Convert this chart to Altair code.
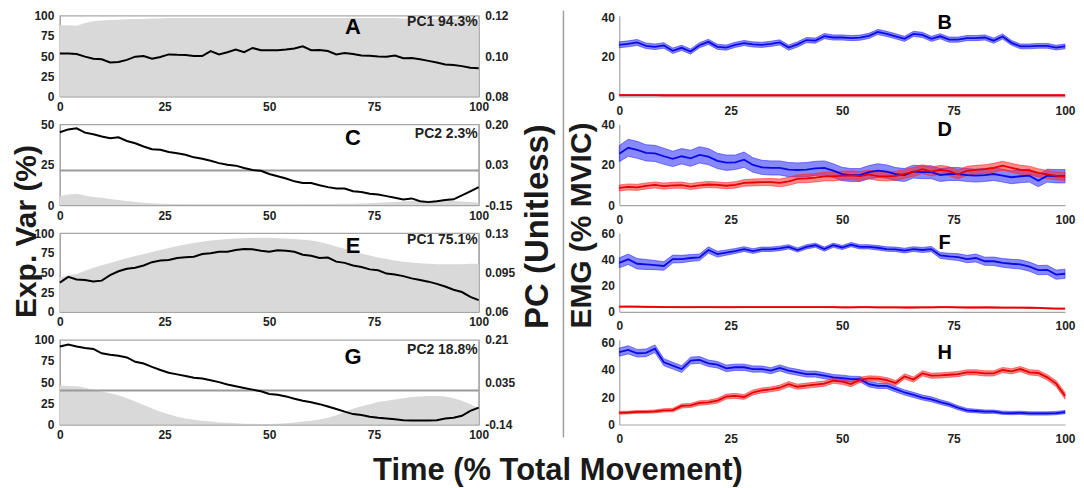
import altair as alt
import pandas as pd

X = list(range(0, 101, 2))
XTICKS = [0, 25, 50, 75, 100]

# ---------------- left column: explained variance (area) + PC loading (line)
A_VAR = [88, 88, 87.5, 91, 93, 94, 94.5, 95, 95.5, 96,
         96, 96.5, 96.5, 97, 97, 97, 97, 97, 97, 97,
         97, 97, 97, 97, 97, 97, 97, 97, 97, 97,
         97, 97, 97, 97, 97, 97, 97, 97, 97, 97,
         97, 96.5, 96.5, 96, 96, 96, 96, 96, 95.5, 95.5,
         95.5]
A_PC = [.1013, .1013, .1010, .0997, .0987, .0984, .0968, .0971, .0981, .0997,
        .1000, .0987, .0995, .1008, .1006, .1005, .1000, .1000, .1024, .1008,
        .1019, .1032, .1019, .1040, .1029, .1029, .1029, .1032, .1037, .1048,
        .1029, .1030, .1025, .1008, .1015, .1010, .1003, .1001, .0998, .0997,
        .1003, .0989, .0990, .0984, .0976, .0968, .0958, .0956, .0950, .0942,
        .0940]
C_VAR = [5.5, 6.5, 7, 6, 5, 4.5, 3.8, 3.1, 2.6, 2,
         1.4, 1.1, 0.9, 0.8, 0.7, 0.7, 0.6, 0.6, 0.6, 0.6,
         0.6, 0.6, 0.6, 0.6, 0.6, 0.6, 0.6, 0.6, 0.6, 0.7,
         0.7, 0.7, 0.7, 0.8, 0.8, 0.9, 1.0, 1.2, 1.4, 1.7,
         2.0, 2.2, 2.5, 2.7, 2.9, 3.0, 2.9, 2.6, 2.3, 1.9,
         1.4]
C_PC = [.166, .178, .183, .164, .157, .147, .140, .144, .128, .118,
        .104, .092, .090, .080, .075, .068, .057, .051, .042, .032,
        .025, .021, .011, .002, -.001, -.015, -.025, -.035, -.047, -.054,
        -.054, -.064, -.072, -.078, -.078, -.090, -.093, -.101, -.104, -.111,
        -.118, -.126, -.121, -.133, -.137, -.133, -.128, -.125, -.108, -.090,
        -.072]
E_VAR = [44, 46, 48, 52, 56, 59, 62, 65, 68, 71,
         73.5, 76, 78.5, 81, 83.5, 85.5, 87.5, 89, 90.5, 91.5,
         92.5, 93, 93.5, 94, 94, 94, 93.5, 93, 92.5, 91.5,
         90.5, 88.5, 86, 83, 80, 77, 74, 71.5, 69, 67,
         65, 63.5, 62.5, 61.5, 61, 60.5, 60.5, 60.5, 60.5, 61,
         61]
E_PC = [.0859, .0911, .0888, .0882, .0870, .0877, .0926, .0960, .0983, .0992,
        .1012, .1041, .1055, .1061, .1078, .1084, .1090, .1113, .1121, .1133,
        .1133, .1150, .1158, .1156, .1142, .1133, .1147, .1142, .1133, .1107,
        .1098, .1078, .1082, .1046, .1035, .1012, .0998, .0977, .0969, .0940,
        .0931, .0917, .0897, .0882, .0868, .0848, .0825, .0796, .0776, .0733,
        .0704]
G_VAR = [46, 45.5, 45, 43.5, 41, 39, 37, 34.5, 31, 27,
         23, 19, 15, 12, 9, 7, 5.5, 4.5, 3.5, 2.5,
         2, 1.5, 1, 0.8, 0.5, 0.5, 1, 1.5, 2.5, 3.5,
         4.5, 6, 8, 11, 15, 18.5, 21.5, 24, 26.5, 28,
         29.5, 31, 32.5, 33, 33.5, 33.5, 33, 31, 28, 24,
         19.5]
G_PC = [.182, .190, .182, .176, .172, .154, .148, .144, .137, .119,
        .112, .098, .085, .074, .067, .060, .053, .050, .043, .035,
        .025, .018, .011, .004, -.003, -.014, -.017, -.024, -.034, -.042,
        -.048, -.056, -.066, -.076, -.087, -.097, -.101, -.108, -.112, -.115,
        -.118, -.122, -.123, -.123, -.123, -.122, -.115, -.112, -.104, -.084,
        -.070]

# ---------------- right column: EMG mean +/- SE (blue, red)
B_BLUE = [26.0, 26.5, 27.2, 25.5, 25.0, 25.7, 23.0, 24.5, 22.6, 25.8,
          27.5, 25.0, 24.6, 26.0, 26.9, 26.2, 26.0, 26.5, 27.2, 24.6,
          26.2, 28.4, 28.1, 30.4, 29.7, 29.7, 29.4, 29.6, 30.5, 32.5,
          31.5, 30.3, 29.0, 31.5, 31.0, 29.0, 30.3, 28.6, 28.6, 29.4,
          29.4, 29.7, 28.1, 30.2, 27.0, 25.2, 25.2, 25.5, 25.5, 24.6,
          25.2]
B_BLUE_SE = [1.5, 1.5, 1.5, 1.4, 1.4, 1.4, 1.4, 1.3, 1.3, 1.3,
             1.3, 1.3, 1.3, 1.3, 1.3, 1.3, 1.3, 1.3, 1.3, 1.3,
             1.3, 1.3, 1.3, 1.3, 1.3, 1.3, 1.3, 1.3, 1.3, 1.3,
             1.3, 1.3, 1.3, 1.3, 1.3, 1.3, 1.3, 1.3, 1.3, 1.3,
             1.3, 1.3, 1.3, 1.3, 1.2, 1.2, 1.2, 1.2, 1.2, 1.2,
             1.2]
B_RED = [0.7, 0.7, 0.7, 0.7, 0.7, 0.6, 0.6, 0.6, 0.6, 0.6,
         0.6, 0.6, 0.6, 0.6, 0.6, 0.6, 0.6, 0.6, 0.6, 0.6,
         0.6, 0.6, 0.6, 0.6, 0.6, 0.6, 0.6, 0.6, 0.6, 0.6,
         0.6, 0.6, 0.6, 0.6, 0.6, 0.6, 0.6, 0.6, 0.6, 0.6,
         0.6, 0.6, 0.6, 0.6, 0.6, 0.6, 0.6, 0.6, 0.6, 0.6,
         0.6]
B_RED_SE = [0.25, 0.25, 0.25, 0.25, 0.25, 0.25, 0.25, 0.25, 0.25, 0.25,
            0.25, 0.25, 0.25, 0.25, 0.25, 0.25, 0.25, 0.25, 0.25, 0.25,
            0.25, 0.25, 0.25, 0.25, 0.25, 0.25, 0.25, 0.25, 0.25, 0.25,
            0.25, 0.25, 0.25, 0.25, 0.25, 0.25, 0.25, 0.25, 0.25, 0.25,
            0.25, 0.25, 0.25, 0.25, 0.25, 0.25, 0.25, 0.25, 0.25, 0.25,
            0.25]
D_BLUE = [25.5, 28.4, 27.4, 25.9, 25.6, 24.2, 22.9, 24.2, 23.2, 24.9,
          24.0, 21.9, 21.0, 21.2, 22.5, 19.9, 18.7, 18.4, 18.4, 17.6,
          17.4, 17.6, 18.2, 18.4, 17.1, 15.4, 14.9, 14.9, 16.3, 17.1,
          16.6, 15.4, 14.9, 16.6, 16.3, 16.3, 14.9, 15.4, 15.4, 14.9,
          14.6, 14.9, 15.4, 14.6, 13.8, 14.3, 14.6, 12.1, 14.6, 14.3,
          14.3]
D_BLUE_SE = [4.0, 4.2, 4.2, 4.0, 4.0, 4.0, 3.8, 3.8, 4.0, 4.0,
             4.0, 3.8, 3.8, 3.6, 3.8, 3.6, 3.5, 3.5, 3.5, 3.5,
             3.5, 3.5, 3.5, 3.5, 3.4, 3.3, 3.2, 3.2, 3.3, 3.4,
             3.3, 3.2, 3.2, 3.2, 3.2, 3.2, 3.2, 3.2, 3.2, 3.2,
             3.2, 3.2, 3.2, 3.2, 3.2, 3.2, 3.2, 3.0, 3.2, 3.3,
             3.3]
D_RED = [8.5, 9.0, 8.8, 9.5, 10.0, 9.4, 9.8, 9.9, 9.2, 9.8,
         10.2, 10.0, 9.6, 10.0, 11.0, 11.2, 11.4, 11.4, 11.0, 11.8,
         13.0, 13.2, 13.6, 14.2, 14.2, 14.6, 14.8, 14.4, 15.2, 14.4,
         14.2, 14.5, 15.5, 16.4, 17.8, 16.6, 17.5, 16.8, 15.2, 17.0,
         17.5, 17.8, 18.5, 19.5, 18.5, 17.5, 17.2, 16.0, 15.2, 14.5,
         14.2]
D_RED_SE = [1.5, 1.5, 1.5, 1.5, 1.5, 1.5, 1.5, 1.5, 1.5, 1.5,
            1.5, 1.5, 1.5, 1.6, 1.6, 1.7, 1.7, 1.8, 1.9, 2.0,
            2.0, 2.1, 2.1, 2.2, 2.2, 2.2, 2.2, 2.2, 2.2, 2.2,
            2.2, 2.2, 2.2, 2.2, 2.2, 2.2, 2.2, 2.2, 2.2, 2.2,
            2.2, 2.2, 2.2, 2.2, 2.2, 2.2, 2.1, 2.0, 2.0, 2.0,
            2.0]
F_BLUE = [37.3, 40.0, 36.6, 36.1, 35.6, 34.9, 40.2, 40.2, 41.0, 41.5,
          47.1, 43.9, 45.1, 46.3, 47.8, 46.3, 47.6, 47.6, 48.3, 49.5,
          47.1, 49.5, 50.7, 47.8, 50.7, 49.0, 51.2, 49.5, 49.5, 48.8,
          47.8, 47.6, 46.6, 47.8, 47.1, 47.8, 42.9, 42.2, 41.7, 40.2,
          41.0, 38.5, 38.5, 37.3, 36.6, 36.1, 34.4, 31.7, 32.0, 28.3,
          29.0]
F_BLUE_SE = [3.8, 4.0, 4.0, 3.8, 3.5, 3.3, 3.0, 2.8, 2.6, 2.5,
             2.4, 2.2, 2.0, 1.9, 1.8, 1.8, 1.7, 1.7, 1.7, 1.6,
             1.6, 1.6, 1.6, 1.6, 1.6, 1.6, 1.6, 1.6, 1.6, 1.7,
             1.7, 1.7, 1.8, 1.8, 1.9, 2.0, 2.2, 2.4, 2.6, 2.8,
             3.0, 3.1, 3.2, 3.3, 3.4, 3.5, 3.5, 3.5, 3.5, 3.5,
             3.5]
F_RED = [3.9, 4.0, 3.9, 3.8, 3.7, 3.6, 3.6, 3.5, 3.5, 3.6,
         3.6, 3.5, 3.5, 3.5, 3.6, 3.6, 3.6, 3.6, 3.6, 3.6,
         3.6, 3.6, 3.6, 3.6, 3.5, 3.4, 3.4, 3.5, 3.5, 3.4,
         3.4, 3.4, 3.3, 3.3, 3.4, 3.4, 3.5, 3.5, 3.4, 3.3,
         3.3, 3.4, 3.3, 3.2, 3.2, 3.2, 3.1, 3.0, 2.7, 2.5,
         2.4]
F_RED_SE = [0.45, 0.45, 0.45, 0.45, 0.45, 0.4, 0.4, 0.4, 0.4, 0.4,
            0.4, 0.4, 0.4, 0.4, 0.4, 0.4, 0.4, 0.4, 0.4, 0.4,
            0.4, 0.4, 0.4, 0.4, 0.4, 0.4, 0.4, 0.4, 0.4, 0.4,
            0.4, 0.4, 0.4, 0.4, 0.4, 0.4, 0.4, 0.4, 0.4, 0.4,
            0.4, 0.4, 0.4, 0.4, 0.4, 0.4, 0.35, 0.35, 0.35, 0.35,
            0.35]
H_BLUE = [53.1, 54.8, 52.3, 52.6, 55.6, 45.7, 43.2, 40.7, 46.9, 47.4,
          44.9, 43.9, 41.2, 42.0, 42.0, 40.7, 40.7, 39.5, 41.5, 39.5,
          38.3, 37.0, 37.0, 35.8, 34.6, 34.1, 33.3, 33.3, 29.6, 28.4,
          28.4, 25.9, 23.5, 21.7, 19.8, 18.5, 16.5, 14.8, 12.3, 10.4,
          9.9, 9.4, 9.4, 8.6, 8.4, 8.6, 8.1, 8.1, 8.1, 8.4,
          9.1]
H_BLUE_SE = [3.0, 3.0, 2.8, 2.8, 2.8, 2.6, 2.5, 2.5, 2.5, 2.5,
             2.4, 2.4, 2.4, 2.3, 2.3, 2.3, 2.2, 2.2, 2.2, 2.2,
             2.2, 2.2, 2.2, 2.2, 2.1, 2.1, 2.1, 2.0, 2.0, 2.0,
             2.0, 2.0, 1.9, 1.9, 1.8, 1.8, 1.7, 1.6, 1.5, 1.4,
             1.3, 1.3, 1.2, 1.2, 1.2, 1.2, 1.2, 1.2, 1.2, 1.2,
             1.2]
H_RED = [8.6, 8.8, 9.2, 9.3, 9.6, 10.4, 10.6, 13.6, 14.0, 15.8,
         16.2, 17.5, 20.5, 21.0, 20.2, 23.5, 25.0, 25.8, 27.0, 29.6,
         27.7, 28.5, 29.2, 30.0, 32.1, 31.4, 29.6, 32.8, 33.8, 33.6,
         32.5, 30.4, 35.3, 33.0, 37.5, 35.8, 36.0, 36.5, 37.0, 38.3,
         38.3, 37.5, 37.5, 40.0, 39.0, 40.7, 38.3, 37.8, 34.6, 30.0,
         21.0]
H_RED_SE = [1.0, 1.0, 1.0, 1.0, 1.1, 1.2, 1.3, 1.5, 1.5, 1.6,
            1.6, 1.7, 1.8, 1.8, 1.8, 1.8, 1.8, 1.8, 1.9, 1.9,
            1.9, 1.9, 1.9, 1.9, 1.9, 1.9, 1.9, 1.9, 1.9, 1.9,
            1.9, 1.9, 1.9, 1.9, 1.9, 1.9, 1.9, 1.9, 1.9, 1.9,
            1.9, 1.9, 1.9, 1.9, 1.9, 1.9, 1.9, 2.0, 2.0, 2.2,
            2.4]

LEFT_LETTERS = ["A", "C", "E", "G"]
RIGHT_LETTERS = ["B", "D", "F", "H"]
PC_TEXTS = ["PC1 94.3%", "PC2 2.3%", "PC1 75.1%", "PC2 18.8%"]
VAR_MAX = [100, 50, 100, 100]
VAR_TICKS = [[0, 25, 50, 75, 100], [0, 25, 50], [0, 25, 50, 75, 100], [0, 25, 50, 75, 100]]
PC_DOMAINS = [[0.08, 0.12], [-0.15, 0.20], [0.06, 0.13], [-0.14, 0.21]]
PC_TICKS = [[0.08, 0.10, 0.12], [-0.15, 0.025, 0.20], [0.06, 0.095, 0.13], [-0.14, 0.035, 0.21]]
PC_LABELS = [["0.08", "0.10", "0.12"], ["-0.15", "0.03", "0.20"],
             ["0.06", "0.095", "0.13"], ["-0.14", "0.035", "0.21"]]
EMG_MAX = [40.7, 40, 60, 62.2]
EMG_TICKS = [[0, 20, 40], [0, 20, 40], [0, 20, 40, 60], [0, 20, 40, 60]]

TITLE_X = "Time (% Total Movement)"
TITLE_VAR = "Exp. Var (%)"
TITLE_PC = "PC (Unitless)"
TITLE_EMG = "EMG (% MVIC)"

# ---------------- style / layout
FONT = "Liberation Sans"
FRAME = "#a6a6a6"
TXT = "#222222"
GRAY_FILL = "#d9d9d9"
BLUE_LINE = "#0a0ae6"
BLUE_FILL = "#2626ff"
RED_LINE = "#e60000"
RED_FILL = "#ff2626"
LW, RW = 420, 447
ROW_H = [81, 81, 79, 85]
LEFT_LETTER_Y = [11, 14, 13, 17]
PC_TEXT_Y = [6, 10, 7, 10]
RIGHT_LETTER_Y = [7, 6, 10, 13]
VSP, HSP = 28, 141


def tick_expr(vals, labs):
    s = ""
    for v, l in zip(vals, labs):
        s += f"abs(datum.value - ({v})) < 0.000001 ? '{l}' : "
    return s + "''"


def big_title(axis_kwargs, text, size, tx, ty, angle=270, baseline="top"):
    axis_kwargs.update(dict(title=text, titleFont=FONT, titleFontSize=size,
                            titleFontWeight="bold", titleColor="#1a1a1a",
                            titleAngle=angle, titleBaseline=baseline,
                            titleAlign="center", titleX=tx, titleY=ty))
    return axis_kwargs


def left_panel(i, var, pc):
    h = ROW_H[i]
    df = pd.DataFrame({"x": X, "var": var, "pc": pc})
    xkw = dict(values=XTICKS, labelPadding=5, title=None)
    if i == 3:
        big_title(xkw, TITLE_X, 31, 499, 55, angle=0, baseline="alphabetic")
    xenc = alt.X("x:Q", scale=alt.Scale(domain=[0, 100], nice=False, zero=False),
                 axis=alt.Axis(**xkw))
    lkw = dict(orient="left", values=VAR_TICKS[i], labelPadding=6, title=None)
    rkw = dict(orient="right", values=PC_TICKS[i], labelPadding=6, title=None,
               labelExpr=tick_expr(PC_TICKS[i], PC_LABELS[i]))
    if i == 2:
        big_title(lkw, TITLE_VAR, 30, -48, -2)
        big_title(rkw, TITLE_PC, 33, 43, -7)
    area = alt.Chart(df).mark_area(color=GRAY_FILL).encode(
        x=xenc,
        y=alt.Y("var:Q", scale=alt.Scale(domain=[0, VAR_MAX[i]], nice=False),
                axis=alt.Axis(**lkw)))
    pc_scale = alt.Scale(domain=PC_DOMAINS[i], nice=False, zero=False)
    pc_axis = alt.Axis(**rkw)
    line = alt.Chart(df).mark_line(color="black", strokeWidth=2).encode(
        x=xenc, y=alt.Y("pc:Q", scale=pc_scale, axis=pc_axis))
    parts = [line]
    lo, hi = PC_DOMAINS[i]
    if lo < 0 < hi:
        zero = alt.Chart(pd.DataFrame({"z": [0.0]})).mark_rule(
            color="#9a9a9a", strokeWidth=2).encode(
            y=alt.Y("z:Q", scale=pc_scale, axis=pc_axis))
        parts = [zero, line]
    right = alt.layer(*parts)
    letter = alt.Chart(pd.DataFrame({"t": [LEFT_LETTERS[i]]})).mark_text(
        font=FONT, fontSize=22, fontWeight="bold", color="black",
        align="center", baseline="middle").encode(
        text="t:N", x=alt.value(LW * 0.70), y=alt.value(LEFT_LETTER_Y[i]))
    pct = alt.Chart(pd.DataFrame({"t": [PC_TEXTS[i]]})).mark_text(
        font=FONT, fontSize=14, fontWeight="bold", color=TXT,
        align="right", baseline="middle").encode(
        text="t:N", x=alt.value(LW - 1), y=alt.value(PC_TEXT_Y[i]))
    return alt.layer(area, right, letter, pct).resolve_scale(y="independent").properties(
        width=LW, height=h, view=alt.ViewBackground(stroke=FRAME, strokeWidth=1.2))


def right_panel(i, blue, blue_se, red, red_se):
    h = ROW_H[i]
    xenc = alt.X("x:Q", scale=alt.Scale(domain=[0, 100], nice=False, zero=False),
                 axis=alt.Axis(values=XTICKS, labelPadding=9, title=None))
    ykw = dict(orient="left", values=EMG_TICKS[i], labelPadding=5, title=None)
    if i == 2:
        big_title(ykw, TITLE_EMG, 30, -52.5, -8)
    yscale = alt.Scale(domain=[0, EMG_MAX[i]], nice=False)
    yaxis = alt.Axis(**ykw)
    series = [(blue, blue_se, BLUE_LINE, BLUE_FILL), (red, red_se, RED_LINE, RED_FILL)]
    bands, lines = [], []
    for m, se, lc, fc in series:
        df = pd.DataFrame({"x": X, "m": m, "se": se})
        base = alt.Chart(df).transform_calculate(lo="datum.m - datum.se", hi="datum.m + datum.se")
        bands.append(base.mark_area(color=fc, fillOpacity=0.55, stroke=fc,
                                    strokeWidth=0.8, strokeOpacity=0.7).encode(
            x=xenc, y=alt.Y("lo:Q", scale=yscale, axis=yaxis), y2="hi:Q"))
        lines.append(alt.Chart(df).mark_line(color=lc, strokeWidth=1.8).encode(
            x=xenc, y=alt.Y("m:Q", scale=yscale, axis=yaxis)))
    layers = bands + lines
    layers.append(alt.Chart(pd.DataFrame({"t": [RIGHT_LETTERS[i]]})).mark_text(
        font=FONT, fontSize=20, fontWeight="bold", color="black",
        align="center", baseline="middle").encode(
        text="t:N", x=alt.value(RW * 0.73), y=alt.value(RIGHT_LETTER_Y[i])))
    if i == 0:
        layers.append(alt.Chart(pd.DataFrame({"d": [0]})).mark_rule(
            color="#a0a0a0", strokeWidth=1.5).encode(
            x=alt.value(-56), y=alt.value(-5), y2=alt.value(423)))
    return alt.layer(*layers).properties(width=RW, height=h)


panels = [
    left_panel(0, A_VAR, A_PC), right_panel(0, B_BLUE, B_BLUE_SE, B_RED, B_RED_SE),
    left_panel(1, C_VAR, C_PC), right_panel(1, D_BLUE, D_BLUE_SE, D_RED, D_RED_SE),
    left_panel(2, E_VAR, E_PC), right_panel(2, F_BLUE, F_BLUE_SE, F_RED, F_RED_SE),
    left_panel(3, G_VAR, G_PC), right_panel(3, H_BLUE, H_BLUE_SE, H_RED, H_RED_SE),
]

chart = alt.concat(*panels, columns=2, spacing={"row": VSP, "column": HSP},
                   bounds="flush").properties(
    padding={"left": 3, "top": 0, "right": 0, "bottom": 0}, background="white"
).configure_view(stroke="transparent").configure_axis(
    labelFont=FONT, labelFontSize=12, labelFontWeight="bold", labelColor=TXT,
    domainColor=FRAME, domainWidth=1.2, ticks=False, grid=False, labelFlush=False,
    labelOverlap=False
)

chart.save("out.html", embed_options={"renderer": "svg", "actions": False})
